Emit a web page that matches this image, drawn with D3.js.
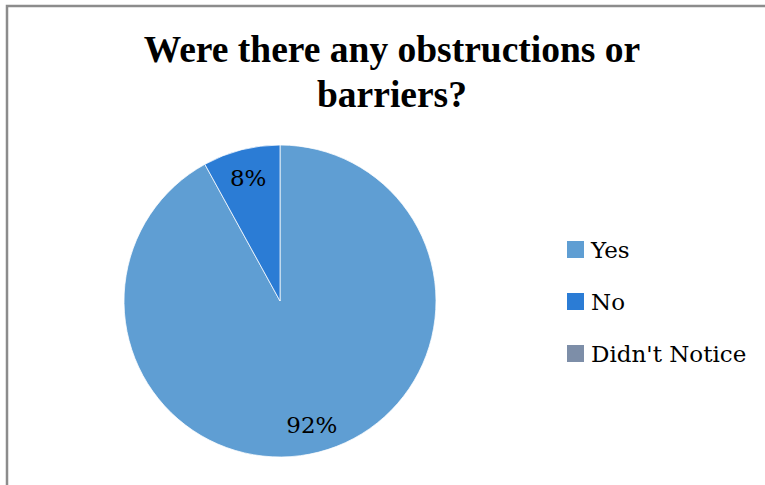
<!DOCTYPE html>
<html>
<head>
<meta charset="utf-8">
<script src="https://cdn.jsdelivr.net/npm/d3@7"></script>
<style>
  html, body { margin: 0; padding: 0; background: #fff; }
  svg { display: block; }
</style>
</head>
<body>
<svg id="chart" width="765" height="485"></svg>
<script>
// Survey answers and their shares (percent)
const titleLines = ["Were there any obstructions or", "barriers?"];
const categories = ["Yes", "No", "Didn't Notice"];
const values = [92, 8, 0];
const colors = ["#5f9ed3", "#2b7cd5", "#7d8ea8"];

const svg = d3.select("#chart");
const W = 765, H = 485;

// Outer frame (extends past the right and bottom edges)
svg.append("rect")
  .attr("x", 7).attr("y", 6)
  .attr("width", W + 10).attr("height", H + 10)
  .attr("fill", "#fff")
  .attr("stroke", "#8c8c8c")
  .attr("stroke-width", 2.5);

// Title
const title = svg.append("text")
  .attr("text-anchor", "middle")
  .attr("font-family", "'Liberation Serif', 'Times New Roman', serif")
  .attr("font-weight", "bold")
  .attr("font-size", 37.5)
  .attr("fill", "#000");
titleLines.forEach((t, i) => {
  title.append("tspan").attr("x", 392).attr("y", 62 + i * 45).text(t);
});

// Pie
const cx = 280, cy = 301, r = 156;
const color = d3.scaleOrdinal().domain(categories).range(colors);
const pie = d3.pie().sort(null).value(d => d.value);
const data = categories.map((c, i) => ({ name: c, value: values[i] }));
const arcs = pie(data);
const arc = d3.arc().innerRadius(0).outerRadius(r);

const g = svg.append("g").attr("transform", `translate(${cx},${cy})`);
g.selectAll("path")
  .data(arcs.filter(d => d.data.value > 0))
  .join("path")
  .attr("d", arc)
  .attr("fill", d => color(d.data.name))
  .attr("stroke", "#fff")
  .attr("stroke-width", 0.75);

// Percentage labels
const labelFont = "'Palatino Linotype', 'Book Antiqua', Palatino, 'DejaVu Serif', serif";
const labelArc = d3.arc().innerRadius(r * 0.82).outerRadius(r * 0.82);
g.selectAll("text.pct")
  .data(arcs.filter(d => d.data.value > 0))
  .join("text")
  .attr("class", "pct")
  .attr("text-anchor", "middle")
  .attr("font-family", labelFont)
  .attr("font-size", 23)
  .attr("fill", "#000")
  .attr("transform", d => {
    const [x, y] = labelArc.centroid(d);
    return `translate(${x},${y + 8.5})`;
  })
  .text(d => d.data.value + "%");

// Legend
const legend = svg.append("g").attr("transform", "translate(567,241)");
const item = legend.selectAll("g")
  .data(categories)
  .join("g")
  .attr("transform", (d, i) => `translate(0,${i * 52})`);
item.append("rect")
  .attr("width", 17).attr("height", 17)
  .attr("fill", d => color(d));
item.append("text")
  .attr("x", 24).attr("y", 17)
  .attr("font-family", labelFont)
  .attr("font-size", 23)
  .attr("fill", "#000")
  .text(d => d);
</script>
</body>
</html>
